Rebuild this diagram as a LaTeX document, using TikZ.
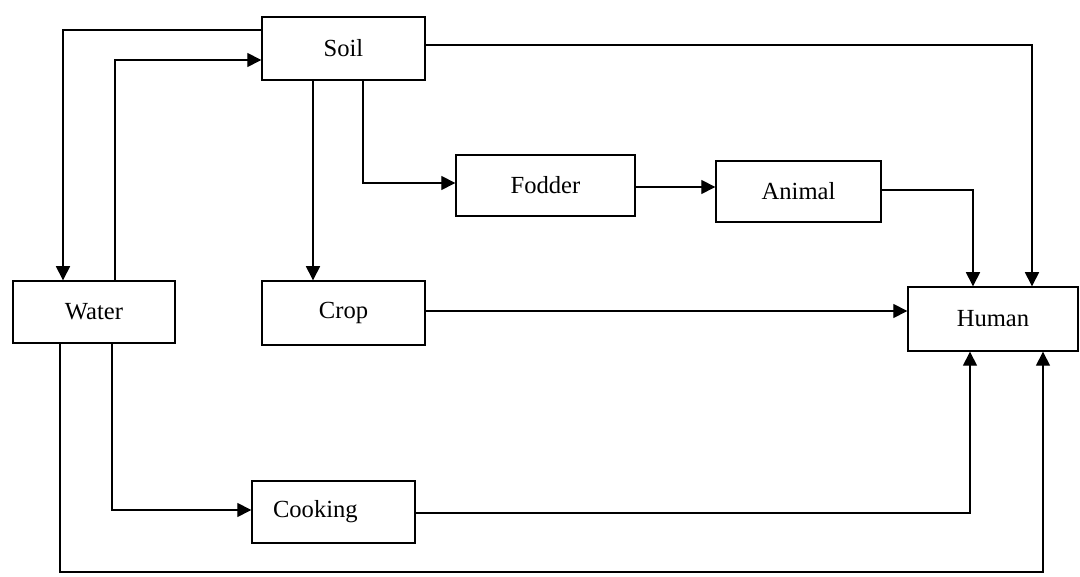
\documentclass[tikz,border=0pt]{standalone}
\usepackage{fontspec}
\setmainfont{Liberation Serif}
\usetikzlibrary{arrows.meta}

\tikzset{
    box/.style={draw,line width=0.8pt,inner sep=0pt,font=\fontsize{14}{16}\selectfont},
    arr/.style={line width=0.8pt,-{Triangle[length=8pt,width=8pt]}}
}

\begin{document}
\begin{tikzpicture}[
    x=0.02cm,
    y=-0.02cm
]
    \useasboundingbox (0,0) rectangle (1080,577);
    \node[box,minimum width=3.26cm,minimum height=1.26cm] (soil) at (343.5,48.5) {Soil};
    \node[box,minimum width=3.24cm,minimum height=1.24cm] (water) at (94,312) {Water};
    \node[box,minimum width=3.26cm,minimum height=1.28cm] (crop) at (343.5,313) {Crop};
    \node[box,minimum width=3.58cm,minimum height=1.22cm] (fodder) at (545.5,185.5) {Fodder};
    \node[box,minimum width=3.30cm,minimum height=1.22cm] (animal) at (798.5,191.5) {Animal};
    \node[box,minimum width=3.40cm,minimum height=1.28cm] (human) at (993,319) {Human};
    \node[box,minimum width=3.26cm,minimum height=1.24cm,
        text width=2.42cm,align=left] (cooking) at (333.5,512) {Cooking};
    \coordinate (corner) at (1043,572);

    \draw[arr] (soil.west |- 0,30) -| (water.north -| 63,0);
    \draw[arr] (water.north -| 115,0) |- (soil.west |- 0,60);
    \draw[arr] (soil.south -| 313,0) -- (crop.north -| 313,0);
    \draw[arr] (soil.south -| 363,0) |- (fodder.west |- 0,183);
    \draw[arr] (fodder.east |- 0,187) -- (animal.west |- 0,187);
    \draw[arr] (animal.east |- 0,190) -| (human.north -| 973,0);
    \draw[arr] (soil.east |- 0,45) -| (human.north -| 1032,0);
    \draw[arr] (crop.east |- 0,311) -- (human.west |- 0,311);
    \draw[arr] (water.south -| 112,0) |- (cooking.west |- 0,510);
    \draw[arr] (cooking.east |- 0,513) -| (human.south -| 970,0);
    \draw[arr] (water.south -| 60,0) |- (corner) -- (human.south -| 1043,0);
\end{tikzpicture}
\end{document}
